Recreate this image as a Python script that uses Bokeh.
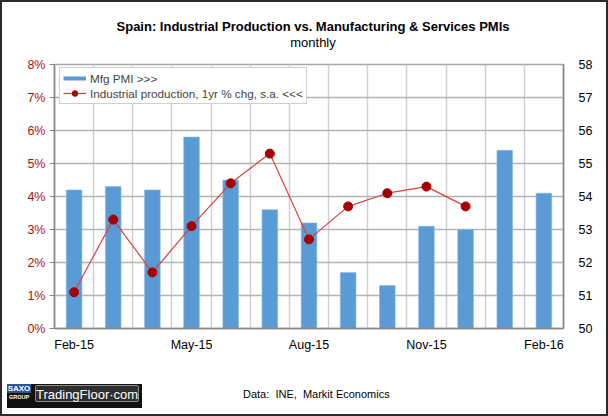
from bokeh.plotting import figure
from bokeh.models import (Range1d, LinearAxis, FixedTicker, PrintfTickFormatter,
                          ColumnDataSource, Legend, LegendItem, Div)
from bokeh.layouts import column
from bokeh.embed import file_html
from bokeh.resources import INLINE

# ---- data ----
months = ["Feb-15", "Mar-15", "Apr-15", "May-15", "Jun-15", "Jul-15", "Aug-15",
          "Sep-15", "Oct-15", "Nov-15", "Dec-15", "Jan-16", "Feb-16"]
mfg_pmi = [54.2, 54.3, 54.2, 55.8, 54.5, 53.6, 53.2, 51.7, 51.3, 53.1, 53.0, 55.4, 54.1]
ind_prod = [1.1, 3.3, 1.7, 3.1, 4.4, 5.3, 2.7, 3.7, 4.1, 4.3, 3.7]
label_months = ["Feb-15", "May-15", "Aug-15", "Nov-15", "Feb-16"]
left_ticks = [0, 1, 2, 3, 4, 5, 6, 7, 8]
right_ticks = [50, 51, 52, 53, 54, 55, 56, 57, 58]

TITLE = "Spain: Industrial Production vs. Manufacturing &amp; Services PMIs"
SUBTITLE = "monthly"
SOURCE = "Data:&nbsp; INE,&nbsp; Markit Economics"

FONT = "Liberation Sans"

xpos = [i + 0.5 for i in range(len(months))]
bar_src = ColumnDataSource(dict(x=xpos, top=mfg_pmi, month=months))
line_src = ColumnDataSource(dict(x=xpos[:len(ind_prod)], y=ind_prod))

p = figure(width=608, height=324, output_backend="svg", toolbar_location=None,
           x_range=Range1d(0, len(months)), y_range=Range1d(0, 8),
           min_border_left=54, min_border_right=45, min_border_top=12,
           min_border_bottom=48)
p.extra_y_ranges = {"pmi": Range1d(50, 58)}
p.background_fill_color = "white"
p.border_fill_color = "white"
p.outline_line_color = "#A6A6A6"
p.outline_line_width = 1.5

bars = p.vbar(x="x", top="top", bottom=50, width=0.4, source=bar_src,
              y_range_name="pmi", fill_color="#5B9BD5", line_color="#8DB8E2",
              line_width=0.6)
bar_key = p.line(x="x", y="top", source=bar_src, y_range_name="pmi",
                 line_color="#5B9BD5", line_width=4, visible=False)
ln = p.line(x="x", y="y", source=line_src, line_color="#D9403F", line_width=1.2)
pts = p.scatter(x="x", y="y", source=line_src, size=9, fill_color="#A50000",
                line_color="#A50000")

# axes
xa = p.xaxis[0]
xa.ticker = FixedTicker(ticks=[xpos[months.index(m)] for m in label_months])
xa.major_label_overrides = {xpos[months.index(m)]: m for m in label_months}
xa.axis_line_color = "#868686"
xa.axis_line_width = 1.5
xa.major_tick_out = 0
xa.major_tick_in = 0
xa.minor_tick_line_color = None
xa.major_label_standoff = 9
xa.major_label_text_font = FONT
xa.major_label_text_font_size = "12.5px"
xa.major_label_text_color = "black"

ya = p.yaxis[0]
ya.ticker = FixedTicker(ticks=left_ticks)
ya.formatter = PrintfTickFormatter(format="%d%%")
ya.axis_line_color = "#868686"
ya.axis_line_width = 1.5
ya.major_tick_line_color = "#868686"
ya.major_tick_out = 5
ya.major_tick_in = 0
ya.minor_tick_line_color = None
ya.major_label_standoff = 4
ya.major_label_text_font = FONT
ya.major_label_text_font_size = "12.5px"
ya.major_label_text_color = "#B01010"

ra = LinearAxis(y_range_name="pmi", ticker=FixedTicker(ticks=right_ticks))
ra.axis_line_color = "#868686"
ra.axis_line_width = 1.5
ra.major_tick_out = 0
ra.major_tick_in = 0
ra.minor_tick_line_color = None
ra.major_label_standoff = 15
ra.major_label_text_font = FONT
ra.major_label_text_font_size = "12.5px"
ra.major_label_text_color = "black"
p.add_layout(ra, "right")

# grids
p.ygrid.ticker = FixedTicker(ticks=left_ticks[1:])
p.ygrid.grid_line_color = "#B4B4B4"
p.ygrid.grid_line_width = 1.5
p.xgrid.ticker = FixedTicker(ticks=list(range(1, len(months))))
p.xgrid.grid_line_color = "#D0D0D0"
p.xgrid.grid_line_width = 1.5

# legend
legend = Legend(items=[LegendItem(label="Mfg PMI >>>", renderers=[bar_key]),
                       LegendItem(label="Industrial production, 1yr % chg, s.a. <<<",
                                  renderers=[ln, pts])],
                location=(5, 224), margin=0, padding=3, spacing=1,
                glyph_width=23, glyph_height=14, label_height=14,
                label_standoff=4, label_text_font=FONT,
                label_text_font_size="11.7px", border_line_color="#A0A0A0",
                border_line_width=1, background_fill_color="white",
                background_fill_alpha=1.0, click_policy="none",
                inactive_fill_alpha=0.0)
p.add_layout(legend, "center")

header_html = f"""
<div style="position:relative;width:608px;height:52px;font-family:'{FONT}';color:black;">
  <div style="position:fixed;left:0;top:0;width:608px;height:416px;border:2px solid #2A2A2A;
       box-sizing:border-box;pointer-events:none;z-index:100;"></div>
  <div style="position:absolute;left:13px;top:19px;width:600px;text-align:center;
       font-size:13px;font-weight:bold;line-height:16px;white-space:nowrap;">{TITLE}</div>
  <div style="position:absolute;left:13px;top:35px;width:600px;text-align:center;
       font-size:13px;line-height:16px;">{SUBTITLE}</div>
</div>
"""
header = Div(text=header_html, width=608, height=52, margin=0)

footer_html = f"""
<div style="position:relative;width:608px;height:40px;font-family:'{FONT}';">
  <div style="position:absolute;left:7px;top:8px;width:135px;height:24px;background:#111;"></div>
  <div style="position:absolute;left:7px;top:8px;width:24px;height:9px;background:#2E5597;
       color:white;font-size:8px;font-weight:bold;line-height:9px;text-align:center;">SAXO</div>
  <div style="position:absolute;left:7px;top:18px;width:24px;height:7px;
       color:white;font-size:5.5px;font-weight:bold;line-height:7px;text-align:center;">GROUP</div>
  <div style="position:absolute;left:35px;top:9px;width:104px;height:17px;background:#2E2E2E;
       border:1px solid #8C8C8C;border-radius:2px;color:white;font-size:13px;
       line-height:17px;text-align:center;">TradingFloor&middot;com</div>
  <div style="position:absolute;left:243px;top:10px;height:16px;font-size:11px;
       line-height:16px;color:black;white-space:nowrap;">{SOURCE}</div>
</div>
"""
footer = Div(text=footer_html, width=608, height=40, margin=0)

layout = column(header, p, footer, spacing=0)

open("out.html", "w").write(file_html(layout, INLINE))
